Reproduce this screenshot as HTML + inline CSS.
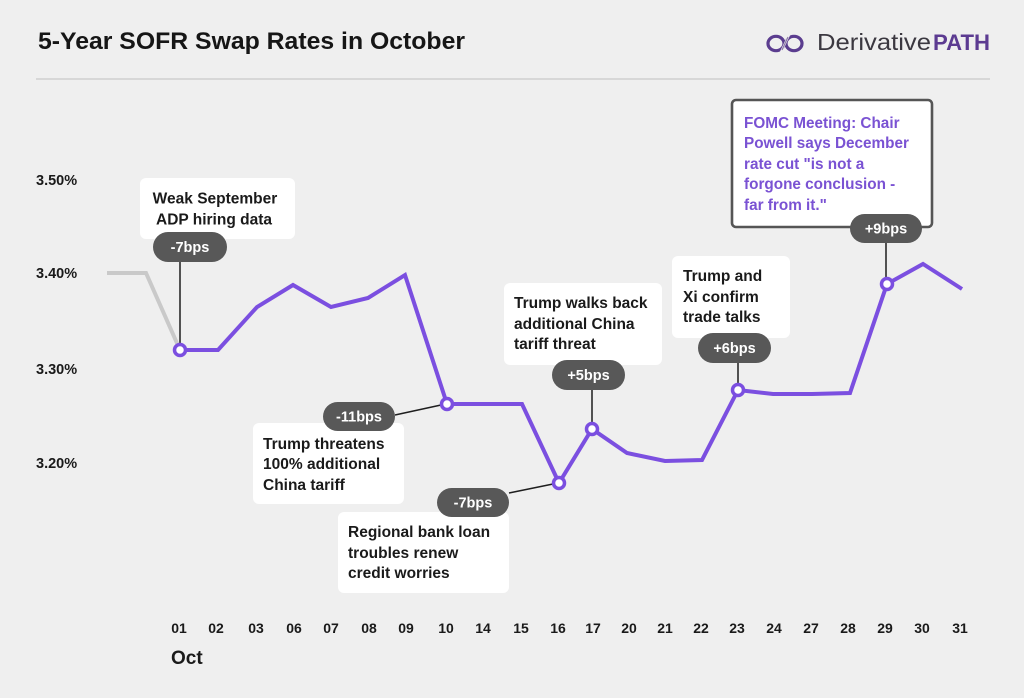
<!DOCTYPE html>
<html><head><meta charset="utf-8"><style>
html,body{margin:0;padding:0;background:#efefef;}
svg{display:block;}
text{font-family:"Liberation Sans",sans-serif;}
</style></head><body>
<svg width="1024" height="698" viewBox="0 0 1024 698" xmlns="http://www.w3.org/2000/svg">
<rect width="1024" height="698" fill="#efefef"/>
<!-- title -->
<text x="38" y="49" font-size="24.5" font-weight="bold" fill="#161616" textLength="427" lengthAdjust="spacingAndGlyphs">5-Year SOFR Swap Rates in October</text>
<!-- logo -->
<g fill="none" stroke="#5b3d8f" stroke-width="3.2">
<ellipse cx="776" cy="43.5" rx="8" ry="7.2"/>
<ellipse cx="794" cy="43.5" rx="8" ry="7.2"/>
</g>
<line x1="781" y1="52" x2="789" y2="35" stroke="#efefef" stroke-width="2.2"/>
<line x1="782" y1="50" x2="788" y2="37" stroke="#8a7aa6" stroke-width="1.2"/>
<text x="817" y="50" font-size="23" fill="#3b3840" textLength="114" lengthAdjust="spacingAndGlyphs">Derivative</text>
<text x="933" y="50" font-size="22" font-weight="bold" fill="#5c3b91" textLength="57" lengthAdjust="spacingAndGlyphs">PATH</text>
<line x1="36" y1="79" x2="990" y2="79" stroke="#cfcfcf" stroke-width="1.5"/>
<!-- y labels -->
<g font-size="14.5" font-weight="bold" fill="#1a1a1a">
<text x="36" y="185">3.50%</text>
<text x="36" y="278">3.40%</text>
<text x="36" y="374">3.30%</text>
<text x="36" y="468">3.20%</text>
</g>
<!-- x labels -->
<g font-size="14" font-weight="bold" fill="#1a1a1a" text-anchor="middle">
<text x="179" y="633">01</text><text x="216" y="633">02</text><text x="256" y="633">03</text><text x="294" y="633">06</text><text x="331" y="633">07</text><text x="369" y="633">08</text><text x="406" y="633">09</text><text x="446" y="633">10</text><text x="483" y="633">14</text><text x="521" y="633">15</text><text x="558" y="633">16</text><text x="593" y="633">17</text><text x="629" y="633">20</text><text x="665" y="633">21</text><text x="701" y="633">22</text><text x="737" y="633">23</text><text x="774" y="633">24</text><text x="811" y="633">27</text><text x="848" y="633">28</text><text x="885" y="633">29</text><text x="922" y="633">30</text><text x="960" y="633">31</text>
</g>
<text x="171" y="664" font-size="19" font-weight="bold" fill="#1a1a1a">Oct</text>
<!-- gray line -->
<polyline points="107,273 146,273 180,350" fill="none" stroke="#c9c9c9" stroke-width="4"/>
<!-- purple line -->
<polyline points="180,350 218,350 257,307 293,285 331,307 368,298 405,275 447,404 483,404 522,404 559,483 592,429 627,453 665,461 702,460 738,390 773,394 812,394 850,393 887,284 923,264 962,289" fill="none" stroke="#7b4fe0" stroke-width="4" stroke-linejoin="miter"/>
<!-- leaders -->
<g stroke="#1e1e1e" stroke-width="1.5">
<line x1="180" y1="255" x2="180" y2="344"/>
<line x1="886" y1="240" x2="886" y2="278"/>
<line x1="738" y1="360" x2="738" y2="384"/>
<line x1="592" y1="387" x2="592" y2="423"/>
<line x1="395" y1="415" x2="441" y2="405"/>
<line x1="509" y1="493" x2="553" y2="484"/>
</g>
<!-- markers -->
<g fill="#fff" stroke="#7b4fe0" stroke-width="3.5">
<circle cx="180" cy="350" r="5.5"/>
<circle cx="447" cy="404" r="5.5"/>
<circle cx="559" cy="483" r="5.5"/>
<circle cx="592" cy="429" r="5.5"/>
<circle cx="738" cy="390" r="5.5"/>
<circle cx="887" cy="284" r="5.5"/>
</g>
<!-- boxes -->
<g fill="#fff">
<rect x="140" y="178" width="155" height="61" rx="6"/>
<rect x="253" y="423" width="151" height="81" rx="6"/>
<rect x="338" y="512" width="171" height="81" rx="6"/>
<rect x="504" y="283" width="158" height="82" rx="6"/>
<rect x="672" y="256" width="118" height="82" rx="6"/>
</g>
<rect x="732" y="100" width="200" height="127" rx="4" fill="#fff" stroke="#555" stroke-width="2.6"/>
<g font-size="15.5" font-weight="bold" fill="#1a1a1a">
<text x="215" y="203.5" text-anchor="middle">Weak September</text>
<text x="214" y="224.5" text-anchor="middle">ADP hiring data</text>
<text x="263" y="449">Trump threatens</text>
<text x="263" y="469">100% additional</text>
<text x="263" y="490">China tariff</text>
<text x="348" y="537">Regional bank loan</text>
<text x="348" y="558">troubles renew</text>
<text x="348" y="578">credit worries</text>
<text x="514" y="308">Trump walks back</text>
<text x="514" y="329">additional China</text>
<text x="514" y="349">tariff threat</text>
<text x="683" y="281">Trump and</text>
<text x="683" y="302">Xi confirm</text>
<text x="683" y="322">trade talks</text>
</g>
<g font-size="15.3" font-weight="bold" fill="#7a52d3">
<text x="744" y="128">FOMC Meeting: Chair</text>
<text x="744" y="148">Powell says December</text>
<text x="744" y="169">rate cut "is not a</text>
<text x="744" y="189">forgone conclusion -</text>
<text x="744" y="210">far from it."</text>
</g>
<!-- pills -->
<g fill="#585858">
<rect x="153" y="232" width="74" height="30" rx="15"/>
<rect x="850" y="214" width="72" height="29" rx="14.5"/>
<rect x="698" y="333" width="73" height="30" rx="15"/>
<rect x="552" y="360" width="73" height="30" rx="15"/>
<rect x="323" y="402" width="72" height="29" rx="14.5"/>
<rect x="437" y="488" width="72" height="29" rx="14.5"/>
</g>
<g font-size="14.5" font-weight="bold" fill="#fff" text-anchor="middle">
<text x="190" y="252">-7bps</text>
<text x="886" y="233.5">+9bps</text>
<text x="734.5" y="353">+6bps</text>
<text x="588.5" y="380">+5bps</text>
<text x="359" y="421.5">-11bps</text>
<text x="473" y="507.5">-7bps</text>
</g>
</svg>
</body></html>
